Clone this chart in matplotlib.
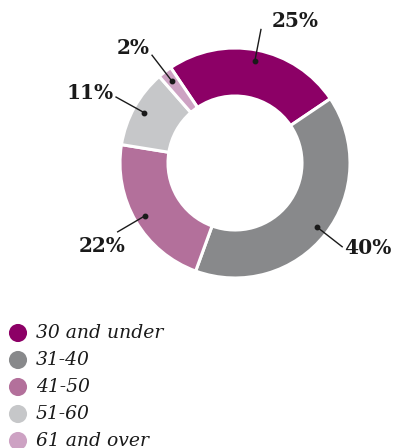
import numpy as np
import matplotlib
matplotlib.use("Agg")
import matplotlib.pyplot as plt

# Age groups and their shares (%)
categories = ["30 and under", "31-40", "41-50", "51-60", "61 and over"]
shares = [25, 40, 22, 11, 2]
colors = ["#8C0066", "#88898B", "#B3709B", "#C6C7C9", "#CDA2C3"]
labels = [f"{v}%" for v in shares]

W, H = 395, 448
fig = plt.figure(figsize=(W / 100, H / 100), dpi=100)
ax = fig.add_axes([0, 0, 1, 1])

cx, cy = 235, H - 163
R, ring = 115, 48
start = 124

wedges, _ = ax.pie(shares, colors=colors, startangle=start, counterclock=False,
                   center=(cx, cy), radius=R,
                   wedgeprops=dict(width=ring, edgecolor="white", linewidth=2.2))
ax.set_xlim(0, W)
ax.set_ylim(0, H)
ax.set_aspect("equal")
ax.axis("off")

# label placement: (text baseline offset from leader end in px, ha)
placement = [
    ((11, 2), "left"),
    ((2, -7), "left"),
    ((8, -20), "right"),
    ((-2, -2), "right"),
    ((-2, 1), "right"),
]

r_dot, r_end = 104, 136
cum = start
for val, lab, (off, ha) in zip(shares, labels, placement):
    span = val / sum(shares) * 360
    mid = np.deg2rad(cum - span / 2)
    cum -= span
    x0, y0 = cx + r_dot * np.cos(mid), cy + r_dot * np.sin(mid)
    x1, y1 = cx + r_end * np.cos(mid), cy + r_end * np.sin(mid)
    ax.plot([x0, x1], [y0, y1], color="#1a1a1a", lw=1.0, zorder=5)
    ax.plot(x0, y0, "o", color="#1a1a1a", ms=3.2, zorder=6)
    ax.text(x1 + off[0], y1 + off[1], lab, ha=ha, va="baseline",
            fontsize=14.5, fontweight="bold", family="DejaVu Serif", color="#1a1a1a")

# legend
leg_y = [333, 360, 387, 414, 441]
for name, col, yy in zip(categories, colors, leg_y):
    ax.scatter([18], [H - yy], s=170, color=col, edgecolors="none", zorder=5)
    ax.text(36, H - yy, name, ha="left", va="center", fontsize=13.5,
            style="italic", family="DejaVu Serif", color="#1a1a1a")

fig.savefig("out.png", dpi=100)
